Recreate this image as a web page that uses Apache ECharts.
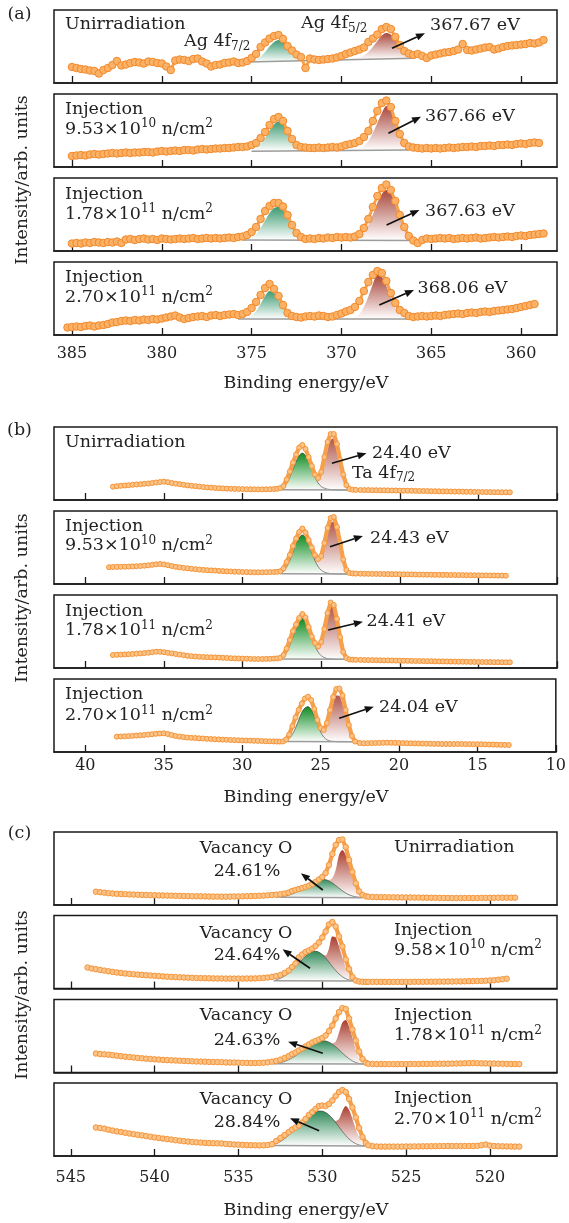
<!DOCTYPE html>
<html>
<head>
<meta charset="utf-8">
<title>XPS core-level spectra</title>
<script src="https://cdn.jsdelivr.net/npm/echarts@6/dist/echarts.min.js"></script>
<style>
  html, body { margin: 0; padding: 0; background: #ffffff; }
  #chart { width: 569px; height: 1223px; }
</style>
</head>
<body>
<div id="chart"></div>
<script>
/* ---------------- (a) Ag 4f ---------------- */
const energyA = [
  385.25,385,384.75,384.5,384.25,384,383.75,383.5,
  383.25,383,382.75,382.5,382.25,382,381.75,381.5,
  381.25,381,380.75,380.5,380.25,380,379.75,379.5,
  379.25,379,378.75,378.5,378.25,378,377.75,377.5,
  377.25,377,376.75,376.5,376.25,376,375.75,375.5,
  375.25,375,374.75,374.5,374.25,374,373.75,373.5,
  373.25,373,372.75,372.5,372.25,372,371.75,371.5,
  371.25,371,370.75,370.5,370.25,370,369.75,369.5,
  369.25,369,368.75,368.5,368.25,368,367.75,367.5,
  367.25,367,366.75,366.5,366.25,366,365.75,365.5,
  365.25,365,364.75,364.5,364.25,364,363.75,363.5,
  363.25,363,362.75,362.5,362.25,362,361.75,361.5,
  361.25,361,360.75,360.5,360.25,360,359.75,359.5,
  359.25,359,358.75
];
const agUnirr = [
  null,16,15,14,13.5,12.5,12,9.5,
  13,15,18,22,17.5,18.5,20,21,
  20.5,19.5,21.5,21,20,19.5,16.5,13,
  22.5,23.5,23,22,24,24.5,21.5,19.5,
  16.5,18,18.5,20,20.5,21.5,20,20.5,
  22,25,29,36,40.5,44.5,47,48,
  44,37,32.5,28.5,26,15,24.5,23.5,
  23,23.5,24,24.5,25.5,27,29,30.5,
  32,33.5,35.5,41,44.5,48.5,54,56,
  54,46,38,32,29.5,28,29,27,
  25,27.5,28.5,29.5,30.5,31,32,33.5,
  39,33,32.5,33.5,34.5,35.5,36,33.5,
  34.5,36,37,37.5,38,38.5,39,40,
  39.5,40.5,43
];
const agInj953e10 = [
  null,11,11.5,12,11.5,12.5,13,12.5,
  13,13.5,14,13.5,14,14.5,14,14.5,
  14.5,15,15,14.5,15.5,16,15.5,16,
  16.5,16,17,17,16.5,17.5,18,17.5,
  18,18.5,18.5,19,19,19.5,20,20,
  20.5,22,24,29,35,42,48,50,
  46,36,28,22,20,19.5,19,19,
  19.5,19,19.5,20,19.5,20.5,22,23,
  24,26,30,36,46,56,64,66.5,
  60,46,33,24,20.5,19.5,19,18.5,
  19,18.5,19,18.5,19,19.5,19,19.5,
  20,20,20.5,20,21,21,21.5,21,
  22,22,22.5,22,23,23.5,23,24,
  24.5,24,null
];
const agInj178e11 = [
  null,7.5,8,7.5,8.5,8,9,8.5,
  8,9,8.5,9.5,8,11.5,12,11,
  12,12.5,11.5,12,11,12.5,12,11.5,
  12,12.5,12,12.5,13,12,12.5,13,
  12.5,13,12.5,13,13.5,13,14,14.5,
  16,19,24,32,40,45,48,48,
  44.5,36,26,18,14,12,12.5,12,
  13,12.5,13.5,13,14,13.5,14,13.5,
  14.5,17,23,32,44,55,63,66.5,
  61,50,36,24,15,10.5,8,11,
  12.5,12,12.5,13,12.5,13,12,12.5,
  13,12.5,13,13.5,12.5,13,13.5,14,
  13.5,14,14.5,14,15,15.5,15,16,
  16.5,17,17.5
];
const agInj270e11 = [
  7.5,8,8.5,8,9,9.5,8.5,9.5,
  10,11,12.5,13,14,14.5,14,15,
  14.5,15.5,15,16,15.5,16.5,17.5,18.5,
  19.5,17.5,16,17,18,18.5,19,18,
  19.5,20,19,20,20.5,21,20,21,
  23,27,33,40,47,51,46,39,
  30,22,19,18,17.5,18.5,19,18.5,
  19.5,19,18,18.5,20,21.5,23.5,25,
  28,34,44,53,60,64,62,54,
  42,32,25,22,19,18,18.5,19,
  18.5,19,19.5,19,20,20.5,21,21.5,
  21,22,22.5,22,23,23.5,23,24,
  24.5,25,25.5,26,27,28,29,30,
  31,null,null
];
// fitted Ag 4f components (absolute height, background included)
const agFitX1 = [375.75,375.5,375.25,375,374.75,374.5,374.25,374,373.75,373.5,373.25,373,372.75,372.5,372.25,372,371.75,371.5];
const agFitX2 = [370,369.75,369.5,369.25,369,368.75,368.5,368.25,368,367.75,367.5,367.25,367,366.75,366.5,366.25,366,365.75];
const agHiUnirr = [21,21,21.2,22,23.5,26.5,31,36.5,41,43,41.5,37,31.5,27,24,22.5,22,22];
const agLoUnirr = [23.5,23.7,24,24.5,25.5,27.5,31,36,42,47.5,50,48.5,43.5,37,31.5,28,26,25];
const agHiInj1 = [16,16,16.3,17,19,23,29,36.5,42.5,45.5,43,36.5,29,23,19.5,17.5,16.5,16.3];
const agLoInj1 = [16.5,16.6,16.8,17.2,18.5,21,26,34,44,54,61,58,46,33,24,19.5,17.5,17];
const agHiInj2 = [11,11.2,11.8,13.5,17,23,30.5,38,43,44,41,34,26,19,14.5,12.3,11.4,11.1];
const agLoInj2 = [11,11.1,11.3,12,14,18.5,26,36.5,48,57,61,57.5,47,34,23,15.5,12,10.8];
const agHiInj3 = [16,16.3,17.2,19.5,24,31,39,44,42,35.5,27.5,21,17.8,16.6,16.2,16,16,16];
const agLoInj3 = [16,16.2,16.8,18,21,28,38.5,51,60,58,49,37.5,27,20.5,17.5,16.4,16.1,16];
const agBgUnirr = [[375.25,21],[366,24.7]];
const agBgInj1 = [[375,15.8],[366.25,17]];
const agBgInj2 = [[375.5,11],[366,10.6]];
const agBgInj3 = [[375.75,16],[366.25,16]];

/* ---------------- (b) Ta 4f ---------------- */
const energyB = [
  38.5,38.25,38,37.75,37.5,37.25,37,36.75,
  36.5,36.25,36,35.75,35.5,35.25,35,34.75,
  34.5,34.25,34,33.75,33.5,33.25,33,32.75,
  32.5,32.25,32,31.75,31.5,31.25,31,30.75,
  30.5,30.25,30,29.75,29.5,29.25,29,28.75,
  28.5,28.25,28,27.8,27.6,27.4,27.2,27,
  26.8,26.6,26.4,26.2,26,25.8,25.6,25.4,
  25.2,25,24.8,24.6,24.4,24.2,24,23.8,
  23.6,23.4,23.2,23,22.8,22.5,22.25,22,
  21.75,21.5,21.25,21,20.75,20.5,20.25,20,
  19.75,19.5,19.25,19,18.75,18.5,18.25,18,
  17.75,17.5,17.25,17,16.75,16.5,16.25,16,
  15.75,15.5,15.25,15,14.75,14.5,14.25,14,
  13.75,13.5,13.25,13
];
const taUnirr = [
  null,13.3,13.8,14.2,14.5,14.8,15.2,15.5,
  15.8,16.2,16.5,17,17.5,18,18.3,17.8,
  17,16.3,15.8,15.2,14.6,14.2,13.8,13.4,
  13,12.6,12.3,12,11.8,11.6,11.4,11.2,
  11.1,11,10.9,10.8,10.7,10.7,10.6,10.6,
  10.7,10.8,11,11.2,12,14,20.5,28.5,
  37.5,45.5,52.5,55,51,43,34,25.5,
  22,28,43,58,66,66,56,40,
  25.5,15,11,10.3,10.1,10,9.9,9.9,
  9.8,9.8,9.7,9.7,9.6,9.5,9.5,9.4,
  9.3,9.3,9.2,9.1,9,9,8.9,8.8,
  8.8,8.7,8.6,8.6,8.5,8.4,8.4,8.3,
  8.2,8.2,8.1,8,8,7.9,7.9,7.8,
  7.8,7.7,7.7,7.7
];
const taInj953e10 = [
  16.8,17,17.1,17.2,17.3,17.4,17.6,17.8,
  18,18.3,18.7,19.2,19.7,20,19.6,18.8,
  18,17.2,16.6,16.1,15.7,15.2,14.8,14.4,
  14.1,13.8,13.6,13.4,13.1,12.9,12.7,12.5,
  12.3,12.2,12,11.9,11.8,11.7,11.7,11.7,
  11.8,11.9,12,12.2,12.8,15.5,22,29,
  38,45.5,52,55.5,51.5,44,36.5,29,
  25,28,41,56,66,67,57,41,
  24.5,14,11,10.6,10.4,10.3,10.2,10.2,
  10.1,10.1,10,10,9.9,9.9,9.8,9.8,
  9.7,9.6,9.6,9.5,9.4,9.4,9.3,9.3,
  9.2,9.2,9.1,9.1,9,9,8.9,8.9,
  8.8,8.8,8.7,8.7,8.6,8.6,8.5,8.5,
  8.4,8.4,8.3,null
];
const taInj178e11 = [
  null,13,13.2,13.4,13.6,13.8,14,14.3,
  14.6,14.9,15.3,15.8,16.3,16.2,15.8,15.2,
  14.6,14,13.4,12.8,12.2,11.8,11.5,11.2,
  11,10.8,10.7,10.6,10.4,10.2,10,9.8,
  9.6,9.5,9.4,9.3,9.1,9,9,9,
  9.1,9.2,9.4,9.6,10.2,13,19.5,28,
  37,43.5,50,54,50.5,41,31.5,25,
  21.5,26,39,55,65.5,63,49,31,
  16,10,8.5,8.3,8.2,8.1,8,7.9,
  7.9,7.8,7.7,7.6,7.6,7.5,7.4,7.3,
  7.3,7.2,7.1,7,7,6.9,6.8,6.8,
  6.7,6.6,6.6,6.5,6.4,6.4,6.3,6.3,
  6.2,6.1,6.1,6,6,5.9,5.9,5.8,
  5.8,5.7,5.7,5.7
];
const taInj270e11 = [
  null,null,15.3,15.5,15.7,15.9,16.1,16.4,
  16.7,17,17.4,17.8,18.2,18.5,18.7,18,
  17,16,15.4,14.9,14.5,14.2,14,13.7,
  13.5,13.2,13,12.8,12.6,12.4,12.2,12,
  11.9,11.7,11.6,11.5,11.4,11.2,11.1,11,
  10.8,10.7,10.6,10.5,10.4,10.5,12.5,17.5,
  26,34.5,42,48.5,53.5,55.3,52,43,
  32,24,22,29,42,55,63,63.5,
  56.5,42,27,16,10.5,9,8.7,8.8,
  8.9,9,9.1,9.2,9.3,9.2,9.1,9,
  8.9,8.8,8.7,8.6,8.5,8.4,8.3,8.2,
  8.1,8.1,8,8,8,8,8,8,
  7.9,7.9,7.8,7.8,7.7,7.6,7.5,7.4,
  7.3,7.2,7.1,7
];
// fitted Ta 4f components: Hi = higher-energy doublet line, Lo = cumulative with the 4f7/2 line
const taFitX = [27.8,27.6,27.4,27.2,27,26.8,26.6,26.4,26.2,26,25.8,25.6,25.4,25.2,25,24.8,24.6,24.4,24.2,24,23.8,23.6,23.4,23.2,23,22.8];
const taHiUnirr = [10.2,10.8,12.5,16.5,22.5,30.5,38.5,44.5,47,44.5,38,30,22.5,17,13.5,11.8,10.8,10.4,10.2,10.1,10,10,10,10,10,10];
const taLoUnirr = [10.2,10.8,12.5,16.5,22.5,30.5,38.5,44.5,47,44.6,38.3,30.8,24.5,21.5,24,35,50,60,62,53,38,24,15,11.5,10.4,10.1];
const taHiInj1 = [10.2,10.8,12.5,17,23.5,32,40.5,46.5,49,46.5,40,31.5,23.5,17.5,13.8,11.9,10.9,10.4,10.2,10.1,10,10,10,10,10,10];
const taLoInj1 = [10.2,10.8,12.5,17,23.5,32,40.5,46.5,49,46.6,40.3,32.3,25.5,22.5,25,36,51,61,62.5,53.5,38.5,24,15,11.5,10.4,10.1];
const taHiInj2 = [8.9,9.5,11.2,15.5,22.5,31,39.5,46.5,49.5,46.5,39.5,30.5,22,16,12.3,10.4,9.4,9,8.8,8.7,8.7,8.7,8.7,8.7,8.7,8.7];
const taLoInj2 = [8.9,9.5,11.2,15.5,22.5,31,39.5,46.5,49.5,46.6,39.8,31.3,24,21,24.5,36,51,61,60,48,31,17.5,11,9.2,8.8,8.7];
const taHiInj3 = [10.3,10.4,10.7,11.5,13.5,17.5,24,32,39.5,44,45.3,42.5,36,27.5,20,15,12.3,11,10.6,10.4,10.3,10.3,10.3,10.3,10.3,10.3];
const taLoInj3 = [10.3,10.4,10.7,11.5,13.5,17.5,24,32,39.5,44,45.4,42.8,36.8,29,23,21,25,35,48,56.5,56,47.5,35,23,15,11.5];
const taBgUnirr = [[27.6,10.2],[23,10]];
const taBgInj1 = [[27.6,10.2],[23,10]];
const taBgInj2 = [[27.6,8.9],[23,8.7]];
const taBgInj3 = [[27.4,10.4],[22.8,10.3]];

/* ---------------- (c) O 1s ---------------- */
const energyC = [
  544,543.75,543.5,543.25,543,542.75,542.5,542.25,
  542,541.75,541.5,541.25,541,540.75,540.5,540.25,
  540,539.75,539.5,539.25,539,538.75,538.5,538.25,
  538,537.75,537.5,537.25,537,536.75,536.5,536.25,
  536,535.75,535.5,535.25,535,534.75,534.5,534.25,
  534,533.75,533.5,533.25,533,532.75,532.5,532.25,
  532,531.8,531.6,531.4,531.2,531,530.8,530.6,
  530.4,530.2,530,529.8,529.6,529.4,529.2,529,
  528.8,528.6,528.4,528.2,528,527.8,527.6,527.4,
  527.25,527,526.75,526.5,526.25,526,525.75,525.5,
  525.25,525,524.75,524.5,524.25,524,523.75,523.5,
  523.25,523,522.75,522.5,522.25,522,521.75,521.5,
  521.25,521,520.75,520.5,520.25,520,519.75,519.5,
  519.25,519,518.75,518.5,518.25,518
];
const oUnirr = [
  null,null,13.3,12.8,12.3,11.8,11.5,11.2,
  11,10.8,10.6,10.4,10.3,10.1,10,9.9,
  9.8,9.6,9.5,9.4,9.3,9.2,9.1,9,
  8.9,8.8,8.8,8.7,8.6,8.5,8.4,8.4,
  8.3,8.3,8.4,8.5,8.6,8.7,8.8,8.9,
  9,9.2,9.4,9.7,10,10.3,10.8,11.5,
  12.5,14,15,16,17,18,19.3,21,
  23,25.5,28,32,40,51,60,65,
  65.5,58,45,33,21.7,13.5,10,8.7,
  8.3,8,7.9,7.8,7.8,7.7,7.7,7.6,
  7.6,7.5,7.5,7.4,7.4,7.3,7.3,7.2,
  7.2,7.1,7.1,7,7,7,7,7,
  7,7,7,7.1,7.1,7.2,7.2,7.3,
  7.3,7.3,7.3,7.3,null,null
];
const oInj958e10 = [
  21,20,19.3,18.6,17.9,17.2,16.6,16,
  15.5,15,14.6,14.2,13.9,13.6,13.3,13,
  12.7,12.4,12.1,11.8,11.6,11.4,11.2,11,
  10.8,10.7,10.5,10.4,10.3,10.2,10.1,10,
  10,9.9,9.9,9.9,9.9,9.9,10,10,
  10.1,10.3,10.6,11,11.6,12.4,13.5,15.5,
  18,21.5,25,31,34,36.5,38,40,
  42.5,46,51,57,64,66.5,62,52,
  42,29,19.5,11.5,8,7,6.7,6.6,
  6.6,6.6,6.6,6.6,6.6,6.6,6.6,6.6,
  6.6,6.6,6.6,6.7,6.7,6.7,6.8,6.8,
  6.8,6.9,6.9,7,7,7.1,7.1,7.2,
  7.3,7.4,7.5,7.6,7.8,8,8.3,8.8,
  9.3,9.8,null,null,null,null
];
const oInj178e11 = [
  null,null,19,18.5,18.2,17.8,17.3,16.8,
  16.3,15.8,15.4,15,14.6,14.2,13.8,13.5,
  13.2,12.9,12.6,12.4,12.2,12,11.8,11.6,
  11.4,11.2,11,10.9,10.8,10.6,10.5,10.4,
  10.3,10.1,10,9.9,9.8,9.7,9.6,9.5,
  9.5,9.6,9.8,10.2,10.8,11.6,12.8,14.5,
  16.5,18.5,20,22,24,26,28,30,
  31.5,33,34.5,37,41.5,47,54,60.5,
  64.4,63.5,54,43,32,21,13.5,9.8,
  8.7,8.5,8.4,8.4,8.4,8.4,8.4,8.4,
  8.4,8.4,8.5,8.5,8.5,8.6,8.6,8.6,
  8.7,8.7,8.8,8.8,8.9,9,9.1,9.2,
  9.3,9.4,9.3,9.2,9.1,9,8.9,8.8,
  8.7,8.6,8.5,8.5,8.4,null
];
const oInj270e11 = [
  null,null,28.5,28,27.4,26.3,25.4,24.6,
  24,23.2,22.5,21.8,21.2,20.6,20,19.3,
  18.6,18,17.4,16.9,16.4,15.8,15.3,14.8,
  14.4,14,13.7,13.4,13.1,12.9,12.8,12.7,
  12.5,12.1,11.8,11.5,11.3,11.1,10.9,10.8,
  10.7,10.6,10.7,11,11.8,15,18,21,
  24,26.5,28.5,30.5,33.5,37,41,44,
  47,50,50.5,50,52,55.5,60,64,
  66,64,57,48.5,38.5,28,19,13,
  10.7,9.8,9.5,9.4,9.4,9.4,9.4,9.4,
  9.4,9.5,9.5,9.6,9.6,9.7,9.7,9.8,
  9.8,9.9,9.9,10,10,10,10,10,
  10,10,10.2,10.8,11.5,10.5,10,9.8,
  9.7,9.6,9.5,9.4,9.4,null
];
// fitted O 1s components: Vac = vacancy oxygen, Lat = cumulative with lattice oxygen
const oFitX = [532.8,532.6,532.4,532.2,532,531.8,531.6,531.4,531.2,531,530.8,530.6,530.4,530.2,530,529.8,529.6,529.4,529.2,529,528.8,528.6,528.4,528.2,528,527.8,527.6,527.4,527.2];
const oVacUnirr = [7.6,7.8,8.2,8.8,9.8,11,12.5,14.2,16.2,18.3,20.4,22.3,24,25.2,25.7,25.3,24,22,19.5,16.8,14.2,12,10.2,9,8.2,7.8,7.6,7.5,7.5];
const oLatUnirr = [7.6,7.8,8.2,8.8,9.8,11,12.5,14.2,16.2,18.3,20.4,22.3,24,25.2,25.8,25.6,25,27,35,50,55,50,39,27,17,10.5,8,7.6,7.5];
const oVacInj1 = [8.5,9.5,11,13,15.5,18.5,22,25.5,29,32.5,35.3,37,37.3,36.3,34,30.5,26.5,22,18,14.5,11.8,9.8,8.6,8,7.7,7.6,7.6,7.6,7.6];
const oLatInj1 = [8.5,9.5,11,13,15.5,18.5,22,25.5,29,32.5,35.3,37,37.3,36.3,34.2,33,40,52,51,42,31,21,13.5,9.5,8,7.6,7.6,7.6,7.6];
const oVacInj2 = [8.8,9.4,10.2,11.3,12.8,14.6,16.7,19,21.5,24,26.3,28.3,30,31.1,31.7,31.5,30.3,28.3,25.7,22.7,19.5,16.5,13.8,11.6,10,9,8.6,8.4,8.4];
const oLatInj2 = [8.8,9.4,10.2,11.3,12.8,14.6,16.7,19,21.5,24,26.3,28.3,30,31.1,31.7,31.5,30.4,29,31,40,50,52.5,46,35,23,14,10,8.7,8.4];
const oVacInj3 = [12,13.5,15.5,18,21,24.3,28,31.5,35,38.3,41,43,44.5,45,44.8,43.5,41,37.5,33.5,29,24.5,20.5,17,14.3,12.3,11,10.4,10.1,10];
const oLatInj3 = [12,13.5,15.5,18,21,24.3,28,31.5,35,38.3,41,43,44.5,45,44.8,43.5,41.1,37.8,35,37,45,50,46,37,27,19,13.5,11,10.2];
const oBgUnirr = [[532.5,7.7],[527.6,7.3]];
const oBgInj1 = [[532.9,7.8],[527.6,7.5]];
const oBgInj2 = [[532.9,8.8],[527.5,8.4]];
const oBgInj3 = [[533.2,10.5],[527.4,10]];

/* ---------------- axis ticks ---------------- */
const ticksA = [360,365,370,375,380,385];
const ticksB = [10,15,20,25,30,35,40];
const ticksC = [520,525,530,535,540,545];

/* ---------------- drawing ---------------- */
const FONT = 'DejaVu Serif';
const INK = '#222222';
const TXT = 17.5;

function grad(top) {
  return new echarts.graphic.LinearGradient(0, 0, 0, 1, [
    { offset: 0, color: top },
    { offset: 1, color: '#ffffff' }
  ]);
}
function zip(xs, ys) { return xs.map((x, k) => [x, ys[k]]); }

const groups = [
  {
    min: 358, max: 386, ticks: ticksA, tops: [10, 94, 178, 262], margin: 11,
    dot: { size: 7.5, fill: '#fbb266', border: '#f2892b', line: '#f7a24c', lineWidth: 3 },
    x: energyA,
    panels: [
      { y: agUnirr,     fits: [[agFitX2, agLoUnirr, '#a9483c', false], [agFitX1, agHiUnirr, '#3d9a72', false]], bg: agBgUnirr },
      { y: agInj953e10, fits: [[agFitX2, agLoInj1, '#a9483c', false], [agFitX1, agHiInj1, '#3d9a72', false]], bg: agBgInj1 },
      { y: agInj178e11, fits: [[agFitX2, agLoInj2, '#a9483c', false], [agFitX1, agHiInj2, '#3d9a72', false]], bg: agBgInj2 },
      { y: agInj270e11, fits: [[agFitX2, agLoInj3, '#a9483c', false], [agFitX1, agHiInj3, '#3d9a72', false]], bg: agBgInj3 }
    ]
  },
  {
    min: 10, max: 42, ticks: ticksB, tops: [427, 511, 595, 679], margin: 6,
    dot: { size: 5, fill: '#fcc386', border: '#f5963c', line: '#f6a04b', lineWidth: 4.2 },
    x: energyB,
    panels: [
      { y: taUnirr,     fits: [[taFitX, taLoUnirr, '#b0574c', false], [taFitX, taHiUnirr, '#0d8c20', true]], bg: taBgUnirr },
      { y: taInj953e10, fits: [[taFitX, taLoInj1, '#b0574c', false], [taFitX, taHiInj1, '#0d8c20', true]], bg: taBgInj1 },
      { y: taInj178e11, fits: [[taFitX, taLoInj2, '#b0574c', false], [taFitX, taHiInj2, '#0d8c20', true]], bg: taBgInj2 },
      { y: taInj270e11, fits: [[taFitX, taLoInj3, '#b0574c', false], [taFitX, taHiInj3, '#0d8c20', true]], bg: taBgInj3 }
    ]
  },
  {
    min: 516, max: 546, ticks: ticksC, tops: [832, 915.5, 999.5, 1083], margin: 14,
    dot: { size: 5.5, fill: '#fcc386', border: '#f5963c', line: '#f6a04b', lineWidth: 4.2 },
    x: energyC,
    panels: [
      { y: oUnirr,     fits: [[oFitX, oLatUnirr, '#aa3e2f', false], [oFitX, oVacUnirr, '#2f8a58', true]], bg: oBgUnirr },
      { y: oInj958e10, fits: [[oFitX, oLatInj1, '#aa3e2f', false], [oFitX, oVacInj1, '#2f8a58', true]], bg: oBgInj1 },
      { y: oInj178e11, fits: [[oFitX, oLatInj2, '#aa3e2f', false], [oFitX, oVacInj2, '#2f8a58', true]], bg: oBgInj2 },
      { y: oInj270e11, fits: [[oFitX, oLatInj3, '#aa3e2f', false], [oFitX, oVacInj3, '#2f8a58', true]], bg: oBgInj3 }
    ]
  }
];

const option = { animation: false, backgroundColor: '#ffffff', grid: [], xAxis: [], yAxis: [], series: [], graphic: [] };

groups.forEach(g => {
  g.tops.forEach((top, i) => {
    const idx = option.grid.length;
    const last = i === g.tops.length - 1;
    option.grid.push({ left: 54, width: 503, top: top, height: 73, show: true, borderColor: '#1a1a1a', borderWidth: 1.5 });
    option.xAxis.push({
      gridIndex: idx, type: 'value', min: g.min, max: g.max, inverse: true,
      axisLine: { show: true, lineStyle: { color: '#1a1a1a', width: 1.5 } },
      axisTick: { show: true, inside: true, length: 7, lineStyle: { color: '#1a1a1a', width: 1.3 }, customValues: g.ticks },
      axisLabel: { show: last, customValues: g.ticks, fontFamily: FONT, fontSize: 16, color: INK, margin: g.margin },
      splitLine: { show: false }
    });
    option.yAxis.push({ gridIndex: idx, type: 'value', min: 0, max: 73, show: false });

    const p = g.panels[i];
    p.fits.forEach((f, k) => {
      const [fx, fy, col, edge] = f;
      option.series.push({
        type: 'line', xAxisIndex: idx, yAxisIndex: idx, silent: true,
        data: zip(fx, fy), smooth: 0.3, symbol: 'none', z: 2 + k,
        lineStyle: edge ? { color: '#3c3c3c', width: 0.6 } : { width: 0, opacity: 0 },
        areaStyle: { origin: Math.min(...fy), color: grad(col), opacity: 1 }
      });
    });
    option.series.push({
      type: 'line', xAxisIndex: idx, yAxisIndex: idx, silent: true,
      data: p.bg, symbol: 'none', z: 4,
      lineStyle: { color: '#9c9c9c', width: 1.5 }
    });
    option.series.push({
      type: 'line', xAxisIndex: idx, yAxisIndex: idx, silent: true,
      data: zip(g.x, p.y), symbol: 'circle', symbolSize: g.dot.size,
      showSymbol: true, showAllSymbol: true, connectNulls: false, z: 5,
      lineStyle: { color: g.dot.line, width: g.dot.lineWidth },
      itemStyle: { color: g.dot.fill, borderColor: g.dot.border, borderWidth: 1 }
    });
  });
});

/* ---------------- annotations ---------------- */
const rich = {
  sup: { fontSize: 12, fontFamily: FONT, fill: INK, lineHeight: 13, verticalAlign: 'top' },
  sub: { fontSize: 12, fontFamily: FONT, fill: INK, lineHeight: 13, verticalAlign: 'bottom' }
};
function T(x, y, text, align, size) {
  return {
    type: 'text', x: x, y: y, z: 100, silent: true,
    style: {
      text: text, fontFamily: FONT, fontSize: size || TXT, fill: INK, lineHeight: 22,
      textAlign: align || 'left', textVerticalAlign: 'middle', rich: rich
    }
  };
}
function arrow(x1, y1, x2, y2) {
  const a = Math.atan2(y2 - y1, x2 - x1), L = 9, W = 3.6;
  const bx = x2 - L * Math.cos(a), by = y2 - L * Math.sin(a);
  return [
    { type: 'line', z: 100, silent: true, shape: { x1: x1, y1: y1, x2: bx, y2: by }, style: { stroke: '#111', lineWidth: 1.7 } },
    { type: 'polygon', z: 100, silent: true,
      shape: { points: [[x2, y2], [bx - W * Math.sin(a), by + W * Math.cos(a)], [bx + W * Math.sin(a), by - W * Math.cos(a)]] },
      style: { fill: '#111' } }
  ];
}
const gfx = option.graphic;
// (a)
gfx.push(T(19.5, 14, '(a)', 'center'));
gfx.push(T(65, 24.5, 'Unirradiation'));
gfx.push(T(184, 41.5, 'Ag 4f{sub|7/2}'));
gfx.push(T(301, 23.5, 'Ag 4f{sub|5/2}'));
gfx.push(T(430, 25, '367.67 eV'));
gfx.push(...arrow(392, 48.3, 425, 33.3));
gfx.push(T(65, 109, 'Injection'));
gfx.push(T(65, 129, '9.53×10{sup|10} n/cm{sup|2}'));
gfx.push(T(425, 116.5, '367.66 eV'));
gfx.push(...arrow(388.4, 133.3, 421, 116.7));
gfx.push(T(65, 194, 'Injection'));
gfx.push(T(65, 214, '1.78×10{sup|11} n/cm{sup|2}'));
gfx.push(T(425, 211, '367.63 eV'));
gfx.push(...arrow(386.6, 225, 419.4, 210));
gfx.push(T(65, 277.5, 'Injection'));
gfx.push(T(65, 297, '2.70×10{sup|11} n/cm{sup|2}'));
gfx.push(T(417.6, 288.5, '368.06 eV'));
gfx.push(...arrow(379.3, 305, 414, 290));
gfx.push(T(306, 383, 'Binding energy/eV', 'center'));
// (b)
gfx.push(T(19.5, 430, '(b)', 'center'));
gfx.push(T(65, 442.5, 'Unirradiation'));
gfx.push(T(372, 453.5, '24.40 eV'));
gfx.push(T(352, 473, 'Ta 4f{sub|7/2}'));
gfx.push(...arrow(331.9, 463.3, 366.5, 453.3));
gfx.push(T(65, 526, 'Injection'));
gfx.push(T(65, 545.5, '9.53×10{sup|10} n/cm{sup|2}'));
gfx.push(T(370, 538.5, '24.43 eV'));
gfx.push(...arrow(330, 546.7, 362.9, 536));
gfx.push(T(65, 611, 'Injection'));
gfx.push(T(65, 630.5, '1.78×10{sup|11} n/cm{sup|2}'));
gfx.push(T(366.5, 621.5, '24.41 eV'));
gfx.push(...arrow(328.2, 630, 362.9, 621.7));
gfx.push(T(65, 694.5, 'Injection'));
gfx.push(T(65, 715.5, '2.70×10{sup|11} n/cm{sup|2}'));
gfx.push(T(379, 707.5, '24.04 eV'));
gfx.push(...arrow(339.2, 718.3, 373.8, 706.7));
gfx.push(T(306, 797, 'Binding energy/eV', 'center'));
// (c)
gfx.push(T(19.5, 833, '(c)', 'center'));
gfx.push(T(246, 848.5, 'Vacancy O', 'center'));
gfx.push(T(247, 871.5, '24.61%', 'center'));
gfx.push(T(394, 847.5, 'Unirradiation'));
gfx.push(...arrow(322.8, 890, 300.9, 873.3));
gfx.push(T(246, 933.5, 'Vacancy O', 'center'));
gfx.push(T(247, 955, '24.64%', 'center'));
gfx.push(T(394, 930, 'Injection'));
gfx.push(T(394, 950, '9.58×10{sup|10} n/cm{sup|2}'));
gfx.push(...arrow(310, 968.3, 282.6, 949.3));
gfx.push(T(246, 1015.5, 'Vacancy O', 'center'));
gfx.push(T(247, 1040, '24.63%', 'center'));
gfx.push(T(394, 1015, 'Injection'));
gfx.push(T(394, 1035.5, '1.78×10{sup|11} n/cm{sup|2}'));
gfx.push(...arrow(322.8, 1053.3, 288.1, 1041.7));
gfx.push(T(246, 1099.5, 'Vacancy O', 'center'));
gfx.push(T(247, 1122.5, '28.84%', 'center'));
gfx.push(T(394, 1098.5, 'Injection'));
gfx.push(T(394, 1119, '2.70×10{sup|11} n/cm{sup|2}'));
gfx.push(...arrow(319.1, 1130.7, 290, 1118.3));
gfx.push(T(306, 1210, 'Binding energy/eV', 'center'));
// vertical axis titles
[180, 598, 995].forEach(cy => {
  const t = T(22, cy, 'Intensity/arb. units', 'center');
  t.rotation = Math.PI / 2;
  gfx.push(t);
});

const chart = echarts.init(document.getElementById('chart'), null, { renderer: 'canvas' });
chart.setOption(option);
</script>
</body>
</html>
